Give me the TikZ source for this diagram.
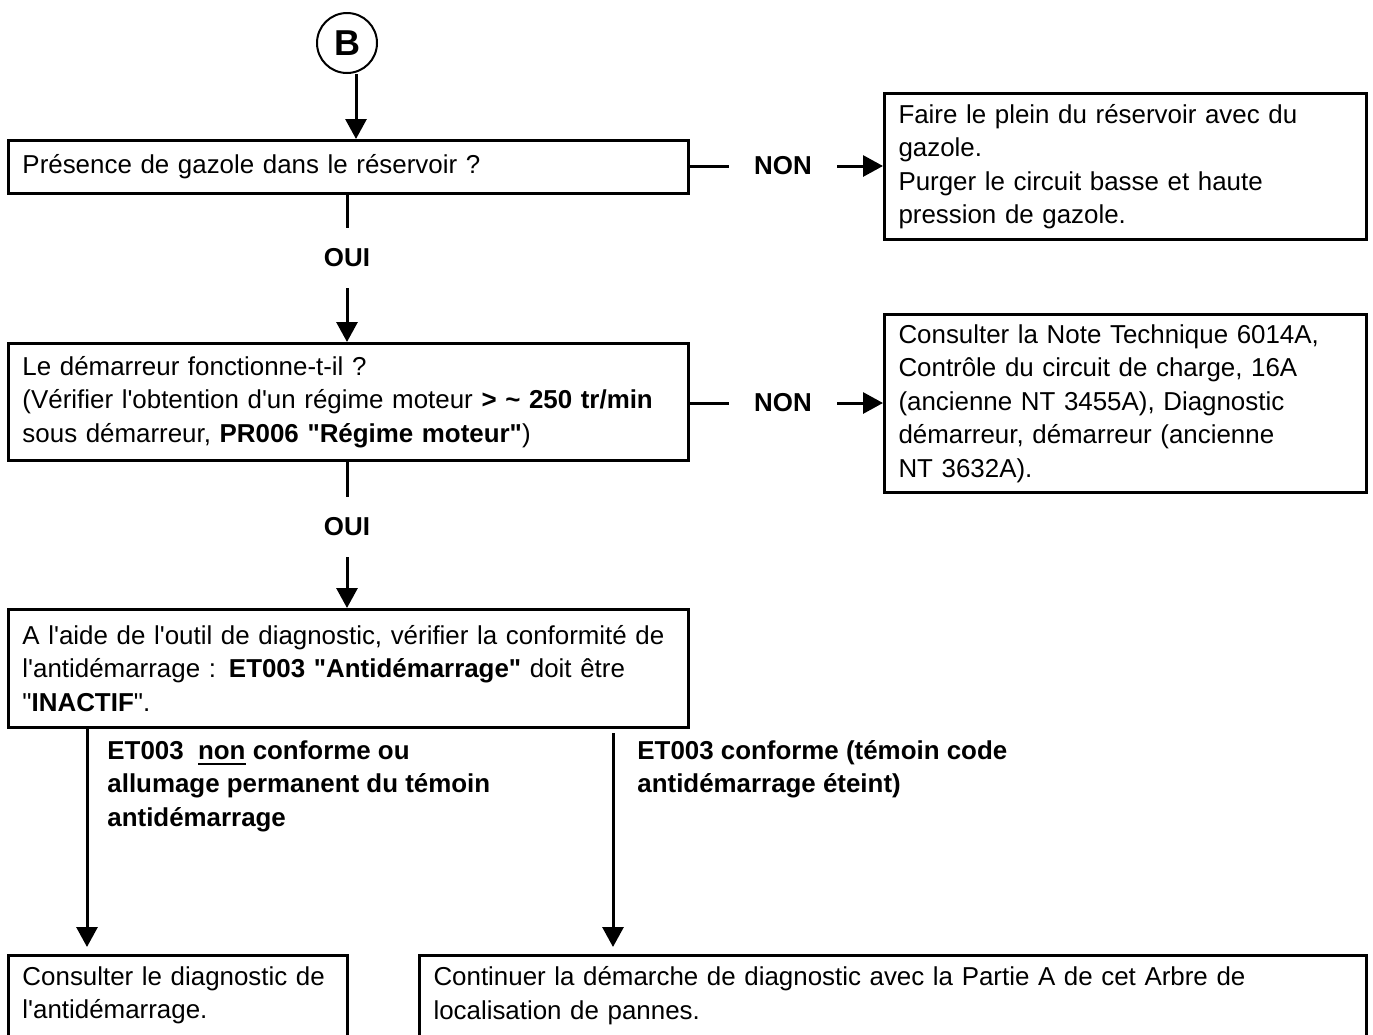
\documentclass[tikz,border=0pt]{standalone}
\usepackage{fontspec}
\setmainfont{Liberation Sans}[Ligatures=TeXOff]
\usepackage{tikz}
\usetikzlibrary{arrows.meta}
\newcommand\txtsize{\fontsize{12.95}{16.75}\selectfont}
\newcommand\souligne[1]{\leavevmode\vtop{\hbox{#1}\kern1.6pt\hrule height 1.3pt}}

\begin{document}
\begin{tikzpicture}[x=0.5pt,y=-0.5pt,font=\txtsize,
  boite/.style={draw,line width=1.5pt,anchor=north west,align=left,inner xsep=7pt,inner ysep=0pt},
  trait/.style={line width=1.5pt},
  fleche/.style={line width=1.5pt,-{Triangle[length=10pt,width=10.5pt]}},
  choix/.style={font=\txtsize\bfseries,inner ysep=0pt}]
\useasboundingbox (0,0) rectangle (1373,1035);
% depart
\node[draw,circle,line width=1pt,minimum size=30pt,inner sep=0pt,font=\fontsize{18}{20}\selectfont\bfseries] (B) at (347,43) {B};
% questions
\node[boite,text width=326pt,minimum height=26.5pt] (q1) at (7,139) {Présence de gazole dans le réservoir ?};
\node[boite,text width=326pt,minimum height=58.5pt] (q2) at (7,342) {Le démarreur fonctionne-t-il ?\\
  (Vérifier l'obtention d'un régime moteur \textbf{> \textasciitilde{} 250 tr/min}\\
  sous démarreur, \textbf{PR006 "Régime moteur"})};
\node[boite,text width=326pt,minimum height=59pt] (q3) at (7,608) {A l'aide de l'outil de diagnostic, vérifier la conformité de\\
  l'antidémarrage : \textbf{ET003 "Antidémarrage"} doit être\\
  "\textbf{INACTIF}".};
% reponses
\node[boite,text width=227pt,minimum height=73pt] (r1) at (883,92) {Faire le plein du réservoir avec du\\
  gazole.\\
  Purger le circuit basse et haute\\
  pression de gazole.};
\node[boite,text width=227pt,minimum height=89pt] (r2) at (883,313) {Consulter la Note Technique 6014A,\\
  Contrôle du circuit de charge, 16A\\
  (ancienne NT 3455A), Diagnostic\\
  démarreur, démarreur (ancienne\\
  NT 3632A).};
\node[boite,text width=155.5pt,inner ysep=5.5pt,text depth=27pt] (r3) at (7,954) {Consulter le diagnostic de\\
  l'antidémarrage.};
\node[boite,text width=459.5pt,inner ysep=5.5pt,text depth=27pt] (r4) at (418,954) {Continuer la démarche de diagnostic avec la Partie A de cet Arbre de\\
  localisation de pannes.};
% choix
\node[choix,minimum height=30pt] (oui1) at (347,258) {OUI};
\node[choix,minimum height=30pt] (oui2) at (347,527) {OUI};
\node[choix,inner xsep=12.5pt] (non1) at (783,166) {NON};
\node[choix,inner xsep=12.5pt] (non2) at (783,403) {NON};
\node[choix,anchor=north west,align=left,inner sep=0pt] (lab1) at (107,740) {ET003\ \ \souligne{non} conforme ou\\
  allumage permanent du témoin\\
  antidémarrage};
\node[choix,anchor=north west,align=left,inner sep=0pt] (lab2) at (637,740) {ET003 conforme (témoin code\\
  antidémarrage éteint)};
% liaisons
\draw[fleche] ([xshift=4.5pt]B.south) -- ([xshift=4.5pt]B.south |- q1.north);
\draw[trait] (q1.south -| oui1) -- (oui1.north);
\draw[fleche] (oui1.south) -- (oui1.south |- q2.north);
\draw[trait] (q2.south -| oui2) -- (oui2.north);
\draw[fleche] (oui2.south) -- (oui2.south |- q3.north);
\draw[trait] (q1.east |- non1) -- (non1.west);
\draw[fleche] (non1.east) -- (non1.east -| r1.west);
\draw[trait] (q2.east |- non2) -- (non2.west);
\draw[fleche] (non2.east) -- (non2.east -| r2.west);
\coordinate (g) at ([xshift=40pt]q3.south west);
\coordinate (d) at (613,733);
\draw[fleche,shorten >=3.5pt] (g) -- (g |- r3.north);
\draw[fleche,shorten >=3.5pt] (d) -- (d |- r4.north);
\end{tikzpicture}
\end{document}
